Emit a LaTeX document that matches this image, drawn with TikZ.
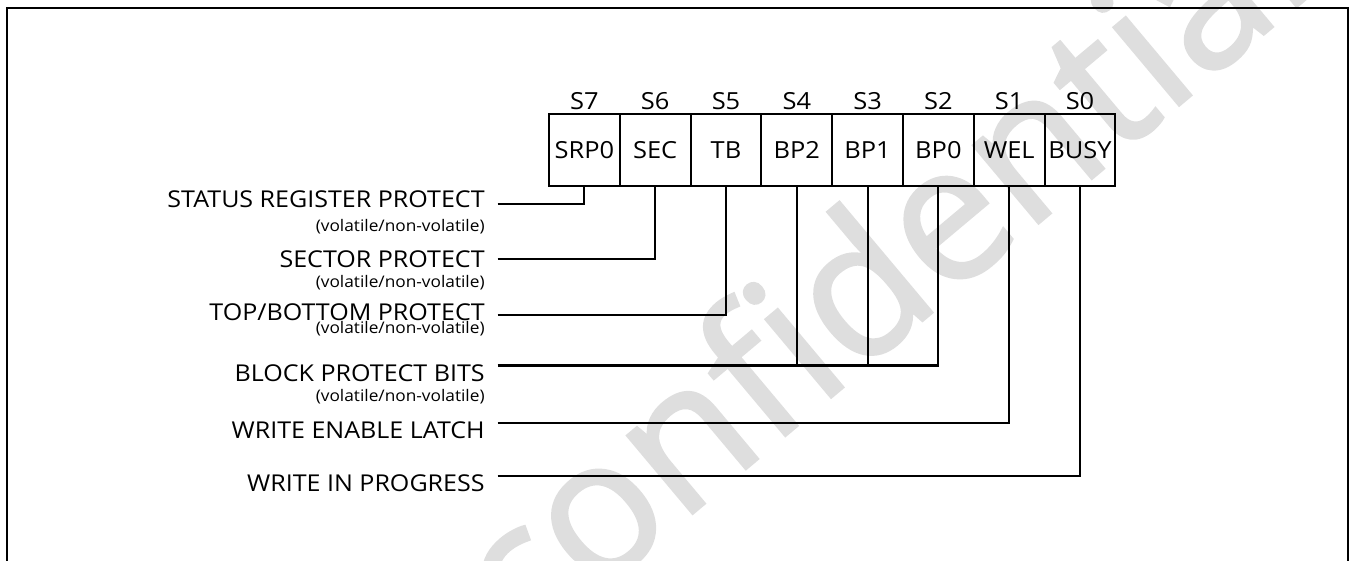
\documentclass[tikz,border=0pt]{standalone}
\usepackage{fontspec}
\setmainfont{Open Sans}[FakeStretch=1.08]
\newfontfamily\wmfont{Open Sans}[FakeBold=1.5]
\usepackage{xcolor}
\usepackage{tikz}
\usetikzlibrary{calc,positioning}
\definecolor{ink}{HTML}{000000}
\definecolor{mark}{HTML}{DEDEDE}
\tikzset{
  frame/.style={draw=ink, line width=1.15pt},
  wire/.style={draw=ink, line width=1.15pt},
  cell/.style={draw=ink, line width=1.15pt, minimum width=1.416cm, minimum height=1.44cm, inner sep=0pt, font=\fontsize{13.4}{15}\selectfont},
  bitno/.style={font=\fontsize{13.4}{15}\selectfont, anchor=base, inner sep=0pt},
  lbl/.style={font=\fontsize{13.2}{15}\selectfont, anchor=base east, inner sep=0pt},
  sublbl/.style={font=\fontsize{9.1}{11}\selectfont, anchor=base east, inner sep=0pt},
  watermark/.style={text=mark, font=\wmfont\fontsize{108}{110}\selectfont, inner sep=0pt}
}
\begin{document}
\begin{tikzpicture}[x=0.02cm, y=-0.02cm]
  \useasboundingbox (0,0) rectangle (1349,561);

  % watermark
  \node[watermark, rotate=40] (wm) at (876,266) {confidential};

  % outer frame
  \draw[frame] (7,561) -- (7,8) -- (1347.5,8) -- (1347.5,561);

  % register cells
  \foreach \name/\txt/\bit [count=\i from 0] in
      {srp/SRP0/S7, sec/SEC/S6, tb/TB/S5, bpb/BP2/S4, bpa/BP1/S3, bpz/BP0/S2, wel/WEL/S1, busy/BUSY/S0} {
    \node[cell] (\name) at (584.4+70.8*\i,150) {\txt};
    \node[bitno] (\name-no) at (584.4+70.8*\i,109) {\bit};
  }

  % field labels
  \node[lbl] (srplbl) at (485,207.3) {STATUS REGISTER PROTECT};
  \node[sublbl] (srpsub) at (485,231) {(volatile/non-volatile)};
  \node[lbl] (seclbl) at (485,267.3) {SECTOR PROTECT};
  \node[sublbl] (secsub) at (485,287.7) {(volatile/non-volatile)};
  \node[lbl] (tblbl) at (485,320.7) {TOP/BOTTOM PROTECT};
  \node[sublbl] (tbsub) at (485,333) {(volatile/non-volatile)};
  \node[lbl] (bplbl) at (485,381.7) {BLOCK PROTECT BITS};
  \node[sublbl] (bpsub) at (485,401) {(volatile/non-volatile)};
  \node[lbl] (wellbl) at (485,438.3) {WRITE ENABLE LATCH};
  \node[lbl] (wiplbl) at (485,491.7) {WRITE IN PROGRESS};

  % lead line starts
  \coordinate (srpend) at (497.5,204.3);
  \coordinate (secend) at (497.5,258.8);
  \coordinate (tbend) at (497.5,315.2);
  \coordinate (bpend) at (497.5,365.5);
  \coordinate (welend) at (497.5,422.8);
  \coordinate (wipend) at (497.5,476.3);

  % connectors
  \draw[wire] (srpend) -| (srp.south);
  \draw[wire] (secend) -| (sec.south);
  \draw[wire] (tbend) -| (tb.south);
  \draw[wire] (bpend) -| (bpz.south);
  \draw[wire] (bpb.south) -- (bpb.south |- bpend);
  \draw[wire] (bpa.south) -- (bpa.south |- bpend);
  \draw[wire] (welend) -| (wel.south);
  \draw[wire] (wipend) -| (busy.south);
\end{tikzpicture}
\end{document}
